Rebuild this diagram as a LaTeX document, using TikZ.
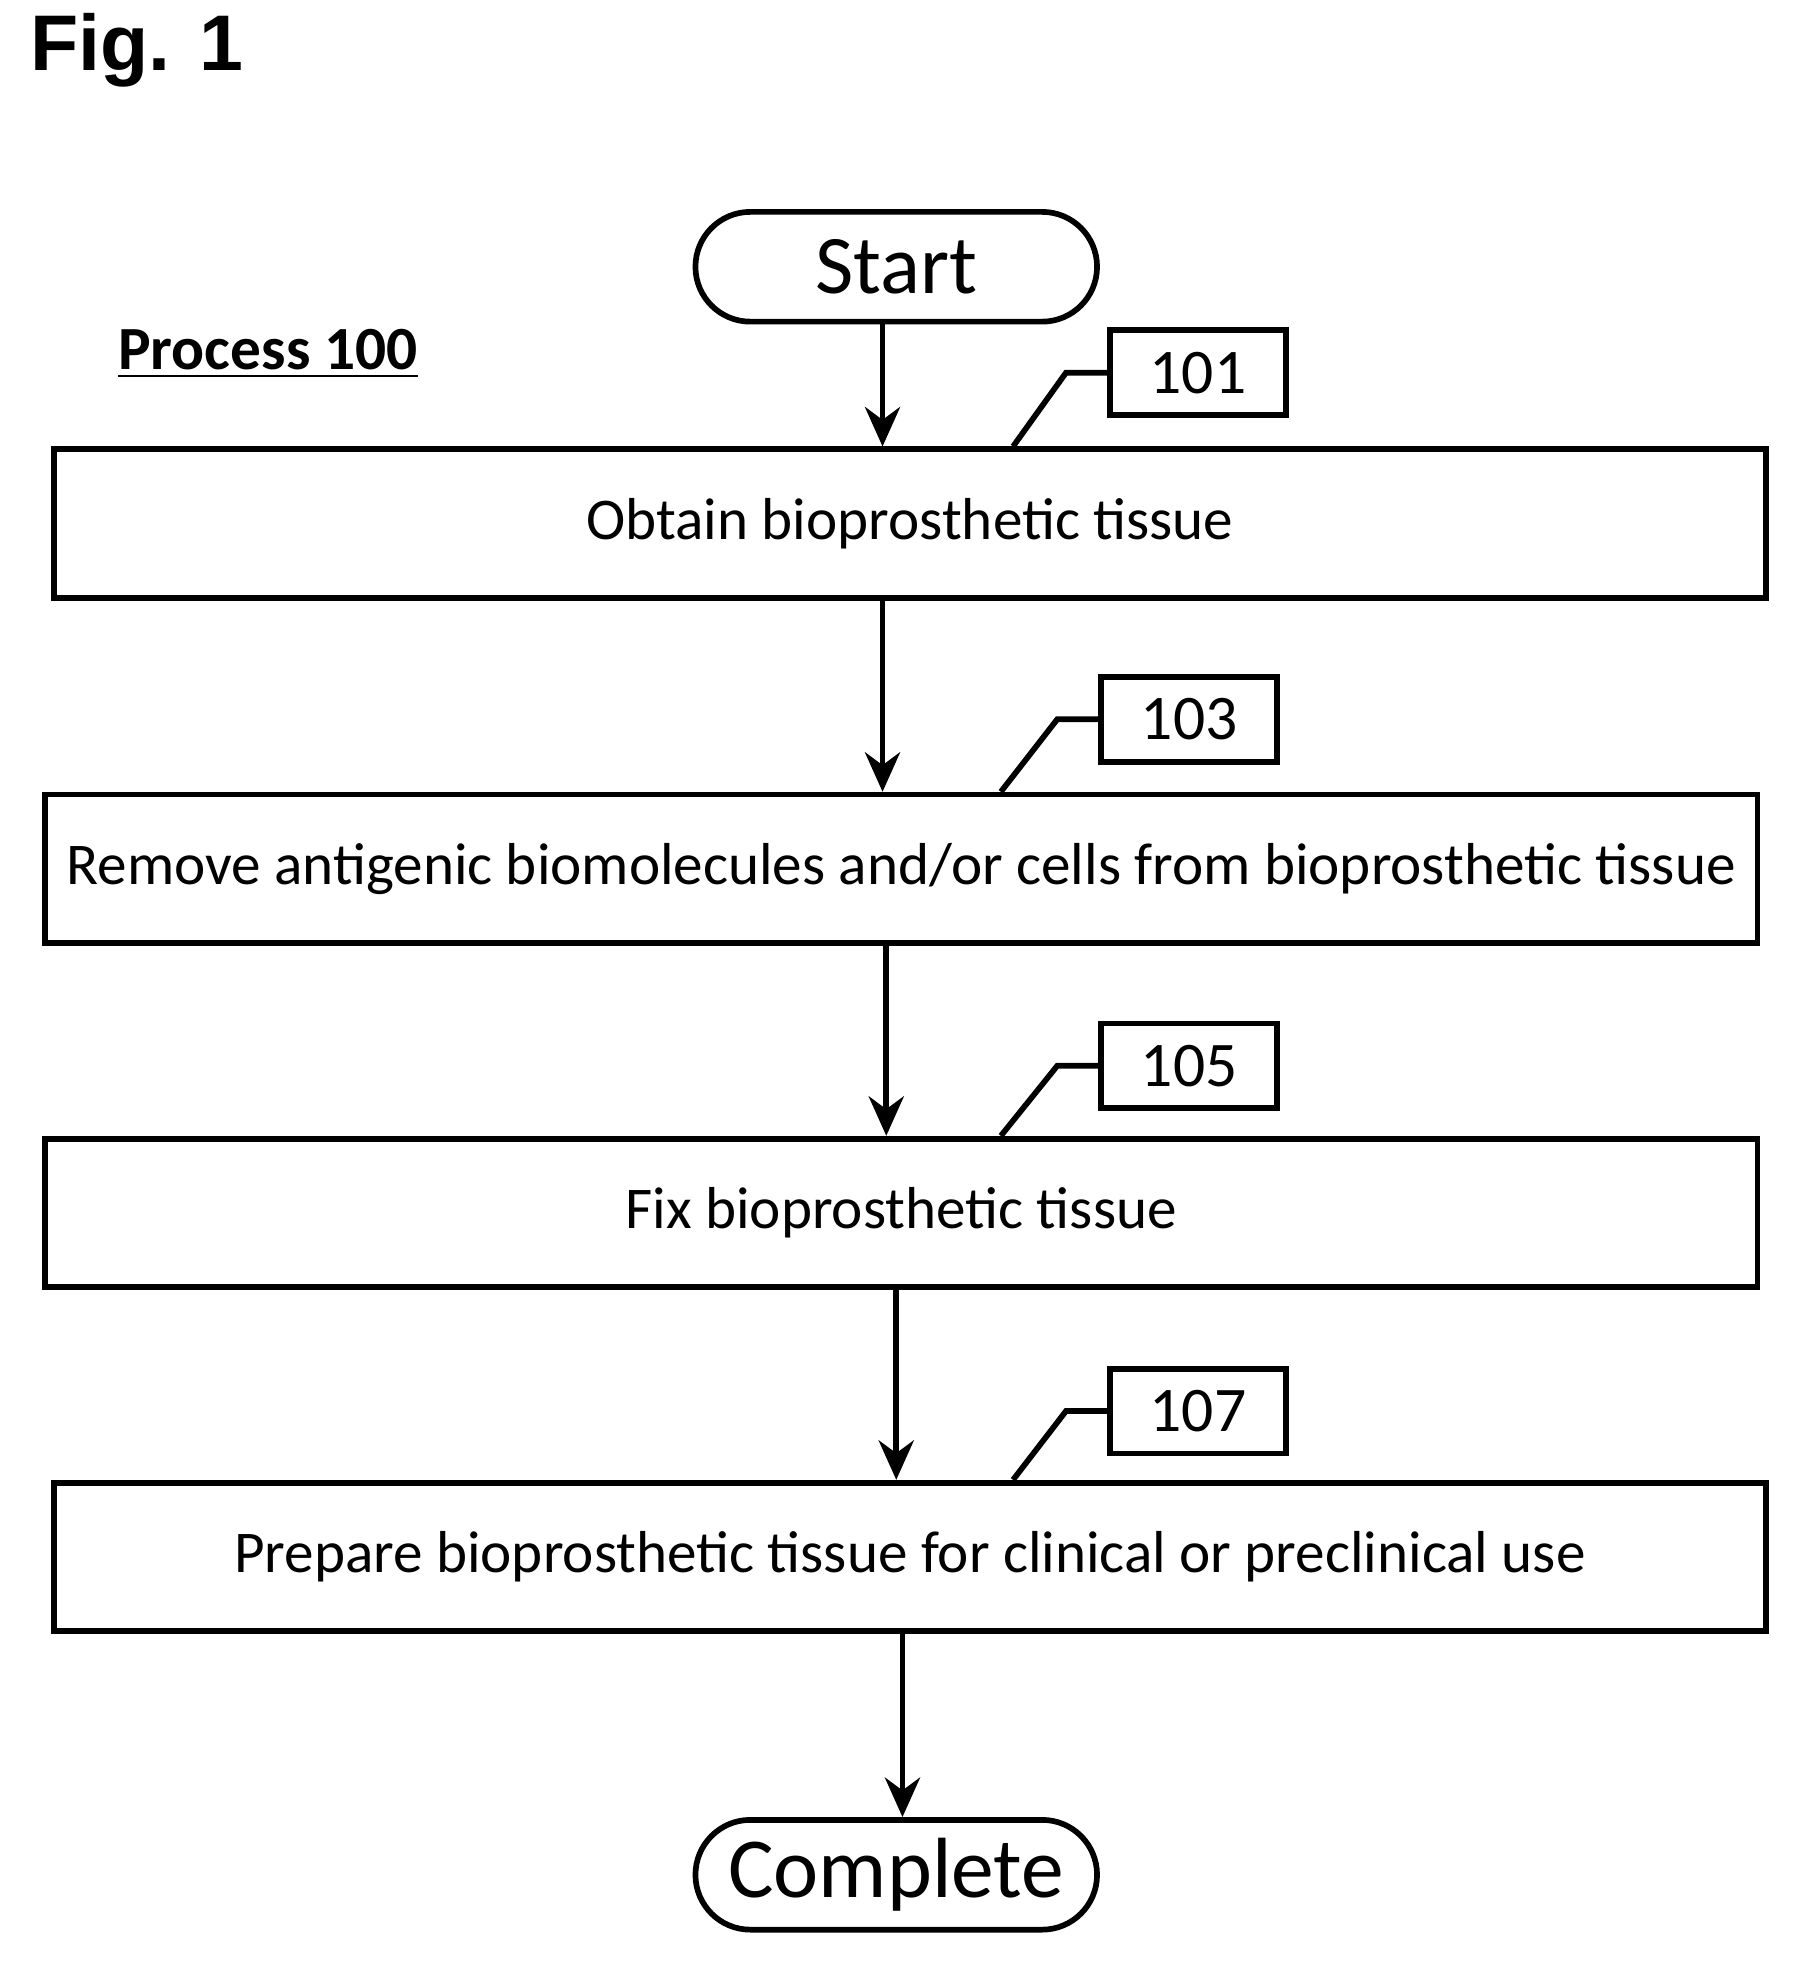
\documentclass[tikz,border=0pt]{standalone}
\usepackage{fontspec}
\setmainfont{Carlito}
\newfontfamily\figfont{Liberation Sans}
\usetikzlibrary{arrows.meta, positioning, shapes.geometric, calc}
\begin{document}
\begin{tikzpicture}[x=0.01cm, y=-0.01cm,
        sbox/.style={rectangle, draw, line width=1.3pt, minimum width=13.73cm,
                     minimum height=1.19cm, font=\fontsize{13.5}{16}\selectfont, align=center},
        term/.style={rectangle, rounded corners=0.44cm, draw, line width=1.3pt,
                     minimum width=3.22cm, minimum height=0.88cm},
        ref/.style={rectangle, draw, line width=1.3pt, minimum width=1.41cm,
                    minimum height=0.68cm, font=\fontsize{14.5}{17}\selectfont},
        lead/.style={line width=1.3pt},
        arr/.style={-{Stealth[length=9pt, width=8pt]}, line width=1.3pt},
      ]
        \useasboundingbox (0,0) rectangle (1445,1578);

        \node[font=\figfont\bfseries\fontsize{18}{20}\selectfont, anchor=west] (fig) at (12,40) {Fig. 1};
        \node[font=\bfseries\fontsize{14}{16}\selectfont] (proc) at (215,284) {\underline{Process 100}};

        % terminals
        \node[term, font=\fontsize{19}{22}\selectfont] (start) at (719,214) {Start};
        \node[term, font=\fontsize{19.5}{22}\selectfont] (done) at (719,1504) {Complete};

        % steps
        \node[sbox] (s1) at (730,420) {Obtain bioprosthetic tissue};
        \node[sbox] (s2) at (723,697) {Remove antigenic biomolecules and/or cells from bioprosthetic tissue};
        \node[sbox] (s3) at (723,973) {Fix bioprosthetic tissue};
        \node[sbox] (s4) at (730,1249) {Prepare bioprosthetic tissue for clinical or preclinical use};

        % reference numerals
        \node[ref] (r1) at (961,299) {101};
        \node[ref] (r2) at (954,577) {103};
        \node[ref] (r3) at (954,855) {105};
        \node[ref] (r4) at (961,1132) {107};

        \draw[lead] (r1.west) -- ++(-33,0) -- ($(s1.north west)!0.560!(s1.north east)$);
        \draw[lead] (r2.west) -- ++(-33,0) -- ($(s2.north west)!0.558!(s2.north east)$);
        \draw[lead] (r3.west) -- ++(-33,0) -- ($(s3.north west)!0.558!(s3.north east)$);
        \draw[lead] (r4.west) -- ++(-33,0) -- ($(s4.north west)!0.560!(s4.north east)$);

        % flow
        \coordinate (a0) at ($(start.south)+(-11,0)$);
        \coordinate (a1) at ($(s1.south)+(-22,0)$);
        \coordinate (a2) at ($(s2.south)+(-12,0)$);
        \coordinate (a3) at ($(s3.south)+(-4,0)$);
        \coordinate (a4) at ($(s4.south)+(-6,0)$);
        \draw[arr] (a0) -- (a0 |- s1.north);
        \draw[arr] (a1) -- (a1 |- s2.north);
        \draw[arr] (a2) -- (a2 |- s3.north);
        \draw[arr] (a3) -- (a3 |- s4.north);
        \draw[arr] (a4) -- (a4 |- done.north);
      \end{tikzpicture}
\end{document}
